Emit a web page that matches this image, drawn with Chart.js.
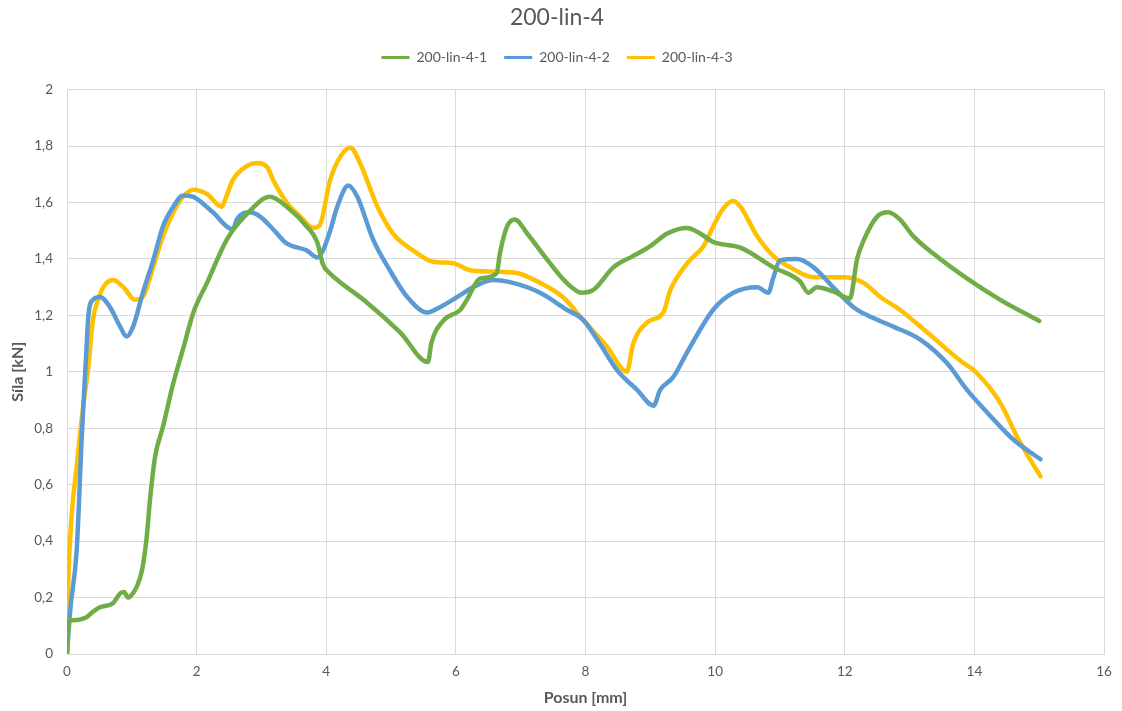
<!DOCTYPE html>
<html>
<head>
<meta charset="utf-8">
<title>200-lin-4</title>
<script src="https://cdn.jsdelivr.net/npm/chart.js@4/dist/chart.umd.min.js"></script>
<style>
  html, body { margin: 0; padding: 0; background: #ffffff; }
  #wrap { width: 1122px; height: 711px; }
</style>
</head>
<body>
<div id="wrap"><canvas id="c" width="1122" height="711"></canvas></div>
<script>
// Series names
const seriesNames = ['200-lin-4-1', '200-lin-4-2', '200-lin-4-3'];

// 200-lin-4-1 : displacement [mm] / force [kN]
const posun1 = [0, 0.02, 0.05, 0.1, 0.3, 0.4, 0.5, 0.71, 0.82, 0.88, 0.94, 1.0, 1.08, 1.16, 1.23, 1.28, 1.36, 1.48, 1.64, 1.79, 1.95, 2.16, 2.47, 2.78, 3.13, 3.39, 3.7, 3.86, 3.95, 4.05, 4.2, 4.63, 5.14, 5.57, 5.62, 5.8, 6.07, 6.17, 6.37, 6.63, 6.68, 6.79, 6.91, 7.1, 7.4, 7.71, 7.94, 8.12, 8.43, 8.73, 9.0, 9.26, 9.57, 9.77, 9.97, 10.39, 10.9, 11.31, 11.44, 11.57, 11.82, 12.08, 12.19, 12.3, 12.5, 12.67, 12.85, 13.06, 13.36, 13.89, 14.4, 15.0];
const sila1  = [0, 0.095, 0.12, 0.12, 0.13, 0.15, 0.165, 0.18, 0.215, 0.22, 0.2, 0.21, 0.24, 0.3, 0.415, 0.545, 0.70, 0.805, 0.96, 1.08, 1.21, 1.315, 1.47, 1.56, 1.62, 1.585, 1.515, 1.46, 1.38, 1.35, 1.32, 1.245, 1.14, 1.035, 1.10, 1.18, 1.22, 1.255, 1.33, 1.35, 1.42, 1.515, 1.54, 1.49, 1.40, 1.315, 1.28, 1.29, 1.37, 1.41, 1.445, 1.49, 1.51, 1.49, 1.46, 1.44, 1.37, 1.32, 1.28, 1.30, 1.285, 1.26, 1.40, 1.47, 1.55, 1.565, 1.54, 1.48, 1.42, 1.33, 1.255, 1.18];

// 200-lin-4-2
const posun2 = [0, 0.05, 0.15, 0.23, 0.3, 0.33, 0.4, 0.51, 0.66, 0.82, 0.92, 1.02, 1.17, 1.33, 1.48, 1.64, 1.79, 1.95, 2.25, 2.56, 2.62, 2.82, 2.98, 3.18, 3.39, 3.7, 3.86, 3.95, 4.06, 4.17, 4.34, 4.48, 4.72, 4.98, 5.25, 5.56, 5.76, 6.02, 6.27, 6.58, 6.88, 7.3, 7.71, 7.96, 8.22, 8.49, 8.8, 9.05, 9.15, 9.35, 9.57, 9.97, 10.28, 10.65, 10.82, 10.9, 11.0, 11.27, 11.52, 11.82, 12.13, 12.35, 12.75, 13.16, 13.58, 13.89, 14.2, 14.6, 15.02];
const sila2  = [0, 0.155, 0.37, 0.78, 1.08, 1.2, 1.255, 1.265, 1.23, 1.16, 1.125, 1.16, 1.28, 1.395, 1.515, 1.585, 1.625, 1.62, 1.565, 1.505, 1.54, 1.565, 1.55, 1.505, 1.455, 1.43, 1.405, 1.43, 1.50, 1.585, 1.66, 1.62, 1.47, 1.36, 1.265, 1.21, 1.23, 1.265, 1.30, 1.325, 1.315, 1.28, 1.22, 1.185, 1.10, 1.005, 0.935, 0.88, 0.935, 0.98, 1.07, 1.22, 1.28, 1.30, 1.28, 1.335, 1.395, 1.40, 1.37, 1.30, 1.23, 1.20, 1.16, 1.115, 1.03, 0.935, 0.855, 0.76, 0.69];

// 200-lin-4-3
const posun3 = [0, 0.02, 0.07, 0.15, 0.23, 0.33, 0.4, 0.48, 0.56, 0.71, 0.87, 1.05, 1.17, 1.33, 1.48, 1.64, 1.79, 1.95, 2.16, 2.39, 2.44, 2.56, 2.78, 2.93, 3.09, 3.18, 3.39, 3.6, 3.8, 3.9, 4.06, 4.21, 4.37, 4.52, 4.79, 5.03, 5.34, 5.65, 5.96, 6.22, 6.58, 6.94, 7.3, 7.65, 7.96, 8.33, 8.64, 8.73, 8.95, 9.2, 9.31, 9.57, 9.82, 9.97, 10.13, 10.28, 10.39, 10.65, 10.9, 11.16, 11.52, 11.98, 12.29, 12.55, 12.85, 13.27, 13.78, 14.04, 14.4, 14.66, 14.86, 15.02];
const sila3  = [0.01, 0.25, 0.485, 0.665, 0.84, 1.02, 1.185, 1.255, 1.30, 1.325, 1.30, 1.255, 1.265, 1.37, 1.48, 1.565, 1.62, 1.645, 1.63, 1.585, 1.61, 1.68, 1.73, 1.74, 1.725, 1.68, 1.60, 1.55, 1.51, 1.52, 1.68, 1.76, 1.795, 1.74, 1.585, 1.49, 1.43, 1.39, 1.385, 1.36, 1.355, 1.35, 1.315, 1.265, 1.185, 1.09, 1.0, 1.095, 1.175, 1.21, 1.29, 1.385, 1.445, 1.515, 1.58, 1.605, 1.585, 1.48, 1.41, 1.37, 1.335, 1.335, 1.315, 1.265, 1.22, 1.14, 1.04, 0.995, 0.89, 0.77, 0.69, 0.63];

// Axis ticks
const xTicks = [0, 2, 4, 6, 8, 10, 12, 14, 16];
const yTicks = [0, 0.2, 0.4, 0.6, 0.8, 1, 1.2, 1.4, 1.6, 1.8, 2];

const colors = ['#70AD47', '#5B9BD5', '#FFC000'];
const textColor = '#595959';
const gridColor = '#D9D9D9';
const fontFamily = 'Lato, "Open Sans", sans-serif';

function pairs(xs, ys) {
  return xs.map((x, i) => ({ x: x, y: ys[i] }));
}

const seriesX = [posun1, posun2, posun3];
const seriesY = [sila1, sila2, sila3];

const datasets = seriesNames.map((name, i) => ({
  label: name,
  data: pairs(seriesX[i], seriesY[i]),
  borderColor: colors[i],
  backgroundColor: colors[i],
  borderWidth: 4.5,
  pointRadius: 0,
  pointHoverRadius: 0,
  fill: false,
  showLine: true,
  cubicInterpolationMode: 'monotone',
  borderCapStyle: 'round',
  borderJoinStyle: 'round'
}));

function decimalComma(v) {
  const r = Math.round(v * 10) / 10;
  return Number.isInteger(r) ? String(r) : r.toFixed(1).replace('.', ',');
}

// Extra gap between the legend row and the plot
const legendGap = {
  id: 'legendGap',
  beforeInit(chart) {
    const legend = chart.legend;
    if (!legend) return;
    const origFit = legend.fit;
    legend.fit = function () {
      origFit.call(this);
      this.height += 15;
    };
  }
};

new Chart(document.getElementById('c'), {
  type: 'scatter',
  data: { datasets: datasets },
  plugins: [legendGap],
  options: {
    responsive: false,
    animation: false,
    events: [],
    layout: { padding: { left: 10, right: 18, top: 0, bottom: 0 } },
    plugins: {
      title: {
        display: true,
        text: '200-lin-4',
        color: textColor,
        font: { family: fontFamily, size: 23, weight: 'normal', lineHeight: 1.2 },
        padding: { top: 4, bottom: 2 }
      },
      legend: {
        display: true,
        position: 'top',
        labels: {
          color: textColor,
          font: { family: fontFamily, size: 14 },
          boxWidth: 28,
          boxHeight: 3,
          padding: 17,
          generateLabels(chart) {
            return chart.data.datasets.map((ds, i) => ({
              text: ds.label,
              fillStyle: ds.borderColor,
              strokeStyle: ds.borderColor,
              lineWidth: 0,
              hidden: false,
              datasetIndex: i,
              fontColor: textColor
            }));
          }
        }
      },
      tooltip: { enabled: false }
    },
    scales: {
      x: {
        type: 'linear',
        min: 0,
        max: 16,
        afterBuildTicks(scale) {
          scale.ticks = xTicks.map(v => ({ value: v }));
        },
        ticks: {
          color: textColor,
          font: { family: fontFamily, size: 13.5 },
          padding: 10,
          maxRotation: 0,
          callback: v => String(v)
        },
        grid: { color: gridColor, lineWidth: 1, drawTicks: false },
        border: { display: true, color: gridColor, width: 1 },
        title: {
          display: true,
          text: 'Posun [mm]',
          color: textColor,
          font: { family: fontFamily, size: 16, weight: 'bold', lineHeight: 1.2 },
          padding: { top: 0, bottom: 3.4 }
        },
        afterFit(scale) { scale.height = 57; }
      },
      y: {
        type: 'linear',
        min: 0,
        max: 2,
        afterBuildTicks(scale) {
          scale.ticks = yTicks.map(v => ({ value: v }));
        },
        ticks: {
          color: textColor,
          font: { family: fontFamily, size: 13.5 },
          padding: 14,
          callback: v => decimalComma(v)
        },
        grid: { color: gridColor, lineWidth: 1, drawTicks: false },
        border: { display: false },
        title: {
          display: true,
          text: 'Síla [kN]',
          color: textColor,
          font: { family: fontFamily, size: 16, weight: 'bold', lineHeight: 1.0 },
          padding: { top: 0, bottom: 0 }
        },
        afterFit(scale) { scale.width = 57; }
      }
    }
  }
});
</script>
</body>
</html>
